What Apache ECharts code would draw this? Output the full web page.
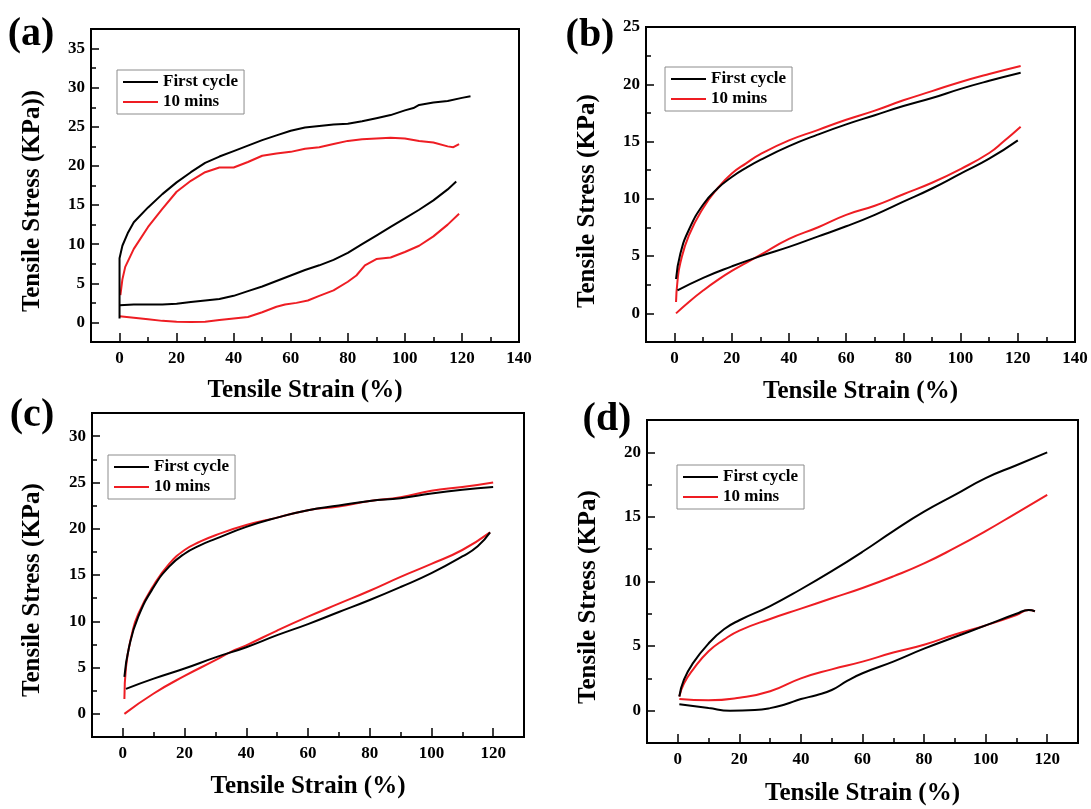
<!DOCTYPE html>
<html>
<head>
<meta charset="utf-8">
<script src="https://cdn.jsdelivr.net/npm/echarts@6/dist/echarts.min.js"></script>
<style>
  html, body { margin: 0; padding: 0; background: #fff; }
  #chart { width: 1091px; height: 809px; }
</style>
</head>
<body>
<div id="chart"></div>
<script>
// ---- data: [strain %, stress KPa] ----
// (a)
const aFirstLoad = [[0,0.5],[0,8.2],[1,9.8],[3,11.5],[5,12.8],[10,14.7],[15,16.4],[20,17.9],[25,19.2],[30,20.4],[35,21.2],[40,21.9],[45,22.6],[50,23.3],[55,23.9],[60,24.5],[65,24.9],[70,25.1],[75,25.3],[80,25.4],[85,25.7],[90,26.1],[95,26.5],[100,27.1],[103,27.4],[105,27.8],[110,28.1],[115,28.3],[120,28.7],[123,28.9]];
const aFirstUnload = [[0,2.2],[5,2.3],[10,2.3],[15,2.3],[20,2.4],[25,2.6],[30,2.8],[35,3.0],[40,3.4],[45,4.0],[50,4.6],[55,5.3],[60,6.0],[65,6.7],[70,7.3],[75,8.0],[80,8.9],[85,10.0],[90,11.1],[95,12.2],[100,13.3],[105,14.4],[110,15.6],[115,17.0],[118,18.0]];
const aTenLoad = [[0.3,3.5],[1,5.5],[2,7.1],[5,9.4],[10,12.2],[15,14.5],[20,16.7],[25,18.1],[30,19.2],[35,19.8],[40,19.8],[45,20.5],[50,21.3],[55,21.6],[60,21.8],[65,22.2],[70,22.4],[75,22.8],[80,23.2],[85,23.4],[90,23.5],[95,23.6],[100,23.5],[105,23.2],[110,23.0],[115,22.5],[117,22.4],[119,22.8]];
const aTenUnload = [[0,0.8],[5,0.6],[10,0.4],[15,0.2],[20,0.1],[25,0.05],[30,0.1],[35,0.3],[40,0.5],[45,0.7],[50,1.3],[55,2.0],[58,2.3],[62,2.5],[66,2.8],[70,3.4],[75,4.1],[80,5.2],[83,6.0],[86,7.3],[90,8.1],[95,8.3],[100,9.0],[105,9.8],[110,11.0],[115,12.5],[119,13.9]];
// (b)
const bFirstLoad = [[0.5,3.0],[2,5.2],[5,7.3],[10,9.5],[15,10.9],[20,11.9],[25,12.7],[30,13.4],[40,14.6],[50,15.6],[60,16.5],[70,17.3],[80,18.1],[90,18.8],[100,19.6],[110,20.3],[121,21.0]];
const bFirstUnload = [[1,2.0],[10,3.1],[20,4.1],[30,5.0],[40,5.8],[50,6.7],[60,7.6],[70,8.6],[80,9.75],[90,10.9],[100,12.2],[110,13.5],[120,15.1]];
const bTenLoad = [[0.5,1.0],[1,2.8],[2,4.4],[5,6.8],[10,9.2],[15,10.9],[20,12.2],[25,13.1],[30,13.9],[40,15.1],[50,16.0],[60,16.9],[70,17.7],[80,18.6],[90,19.4],[100,20.2],[110,20.9],[121,21.6]];
const bTenUnload = [[0.5,0],[5,1.0],[10,2.0],[15,2.9],[20,3.7],[25,4.4],[30,5.1],[40,6.5],[50,7.5],[60,8.6],[70,9.4],[80,10.4],[90,11.4],[100,12.6],[110,14.0],[115,15.0],[121,16.3]];
// (c)
const cFirstLoad = [[0.5,4.0],[2,7.2],[5,10.5],[10,13.7],[15,15.9],[20,17.3],[25,18.2],[30,18.9],[40,20.2],[50,21.2],[60,22.0],[70,22.5],[80,23.0],[90,23.3],[100,23.8],[110,24.2],[120,24.5]];
const cFirstUnload = [[1,2.7],[10,3.8],[20,4.9],[30,6.1],[40,7.2],[50,8.5],[60,9.7],[70,11.0],[80,12.3],[90,13.7],[100,15.2],[110,17.0],[115,18.1],[119,19.6]];
const cTenLoad = [[0.5,1.6],[1,5.0],[3,8.7],[5,10.8],[10,13.9],[15,16.2],[20,17.7],[25,18.6],[30,19.3],[40,20.4],[50,21.2],[60,22.0],[70,22.4],[80,23.0],[90,23.4],[100,24.1],[110,24.5],[120,25.0]];
const cTenUnload = [[0.5,0],[10,2.2],[20,4.1],[30,5.8],[35,6.7],[40,7.4],[50,9.0],[60,10.5],[70,11.9],[80,13.3],[90,14.8],[100,16.2],[110,17.7],[119,19.6]];
// (d)
const dFirstLoad = [[0.5,1.1],[2,2.4],[5,3.7],[10,5.2],[15,6.3],[20,7.0],[30,8.1],[40,9.4],[50,10.8],[60,12.3],[70,13.9],[80,15.4],[90,16.7],[100,18.0],[110,19.0],[120,20.0]];
const dFirstUnload = [[0.5,0.5],[10,0.2],[17,0],[25,0.05],[30,0.2],[35,0.5],[40,0.9],[45,1.2],[50,1.6],[55,2.3],[60,2.9],[70,3.8],[80,4.8],[90,5.7],[100,6.6],[110,7.5],[114,7.8],[116,7.7]];
const dTenLoad = [[0.5,1.1],[2,2.1],[5,3.2],[10,4.6],[15,5.5],[20,6.2],[30,7.1],[40,7.9],[50,8.7],[60,9.5],[70,10.4],[80,11.4],[90,12.6],[100,13.9],[110,15.3],[120,16.7]];
const dTenUnload = [[0.5,0.9],[10,0.8],[20,1.0],[30,1.5],[40,2.5],[50,3.2],[60,3.8],[70,4.5],[80,5.1],[90,5.9],[100,6.6],[110,7.4],[114,7.8],[116,7.7]];

// tick labels
const xTicks140 = [0, 20, 40, 60, 80, 100, 120, 140];
const xTicks120 = [0, 20, 40, 60, 80, 100, 120];
const aYTicks = [0, 5, 10, 15, 20, 25, 30, 35];
const bYTicks = [0, 5, 10, 15, 20, 25];
const cYTicks = [0, 5, 10, 15, 20, 25, 30];
const dYTicks = [0, 5, 10, 15, 20];

const seriesNames = ['First cycle', '10 mins'];
const serif = '"Liberation Serif", "Times New Roman", serif';
const BLACK = '#000000';
const RED = '#ee1d23';

// 每个子图的布局
const panels = [
  { tag: '(a)', tagPos: [31, 35], yName: 'Tensile Stress (KPa))', yNamePos: [33, 201],
    grid: { left: 91, top: 29, width: 428, height: 313 }, legend: { left: 117, top: 70 },
    xMax: 140, xTicks: xTicks140, yMax: 37.5, yTicks: aYTicks, xNameGap: 36, smooth: false,
    lines: [aFirstLoad, aFirstUnload, aTenLoad, aTenUnload] },
  { tag: '(b)', tagPos: [590, 36], yName: 'Tensile Stress (KPa)', yNamePos: [588, 201],
    grid: { left: 646, top: 27, width: 429, height: 315 }, legend: { left: 665, top: 67 },
    xMax: 140, xTicks: xTicks140, yMax: 25, yTicks: bYTicks, xNameGap: 37, smooth: 0.5,
    lines: [bFirstLoad, bFirstUnload, bTenLoad, bTenUnload] },
  { tag: '(c)', tagPos: [32, 416], yName: 'Tensile Stress (KPa)', yNamePos: [33, 590],
    grid: { left: 92, top: 413, width: 432, height: 324 }, legend: { left: 108, top: 455 },
    xMax: 130, xTicks: xTicks120, yMax: 32.5, yTicks: cYTicks, xNameGap: 37, smooth: 0.5,
    lines: [cFirstLoad, cFirstUnload, cTenLoad, cTenUnload] },
  { tag: '(d)', tagPos: [607, 420], yName: 'Tensile Stress (KPa)', yNamePos: [589, 597],
    grid: { left: 647, top: 420, width: 431, height: 323 }, legend: { left: 677, top: 465 },
    xMax: 130, xTicks: xTicks120, yMax: 22.5, yTicks: dYTicks, xNameGap: 38, smooth: 0.5,
    lines: [dFirstLoad, dFirstUnload, dTenLoad, dTenUnload] },
];

const tickStyle = { color: BLACK, width: 1.5 };
const labelStyle = { color: BLACK, fontFamily: serif, fontWeight: 'bold', fontSize: 17 };

const grids = [], xAxes = [], yAxes = [], series = [], legends = [], graphics = [];

panels.forEach((p, i) => {
  grids.push({ ...p.grid, show: true, borderColor: BLACK, borderWidth: 2, containLabel: false });

  // 主轴(短刻度+标签) + 长刻度叠加轴
  xAxes.push({
    gridIndex: i, type: 'value', position: 'bottom', min: -10, max: p.xMax, interval: 10,
    axisLine: { onZero: false, lineStyle: { color: BLACK, width: 2 } },
    axisTick: { inside: true, length: 5, lineStyle: tickStyle },
    axisLabel: { ...labelStyle, margin: 8, formatter: (v) => (p.xTicks.includes(v) ? String(v) : '') },
    splitLine: { show: false },
    name: 'Tensile Strain (%)', nameLocation: 'middle', nameGap: p.xNameGap,
    nameTextStyle: { color: BLACK, fontFamily: serif, fontWeight: 'bold', fontSize: 25 },
  });
  xAxes.push({
    gridIndex: i, type: 'value', position: 'bottom', min: -10, max: p.xMax,
    axisLine: { show: false, onZero: false },
    axisTick: { inside: true, length: 9, lineStyle: tickStyle, customValues: p.xTicks },
    axisLabel: { show: false }, splitLine: { show: false },
  });
  yAxes.push({
    gridIndex: i, type: 'value', position: 'left', min: -2.5, max: p.yMax, interval: 2.5,
    axisLine: { onZero: false, lineStyle: { color: BLACK, width: 2 } },
    axisTick: { inside: true, length: 5, lineStyle: tickStyle },
    axisLabel: { ...labelStyle, margin: 6, formatter: (v) => (p.yTicks.includes(v) ? String(v) : '') },
    splitLine: { show: false },
  });
  yAxes.push({
    gridIndex: i, type: 'value', position: 'left', min: -2.5, max: p.yMax,
    axisLine: { show: false, onZero: false },
    axisTick: { inside: true, length: 8, lineStyle: tickStyle, customValues: p.yTicks },
    axisLabel: { show: false }, splitLine: { show: false },
  });

  p.lines.forEach((d, k) => {
    const color = k < 2 ? BLACK : RED;
    series.push({
      type: 'line', name: seriesNames[k < 2 ? 0 : 1],
      xAxisIndex: 2 * i, yAxisIndex: 2 * i, data: d,
      symbol: 'none', showSymbol: false, smooth: p.smooth,
      lineStyle: { color, width: 2 }, itemStyle: { color },
      z: k < 2 ? 3 : 2,
    });
  });

  legends.push({
    ...p.legend, orient: 'vertical', data: seriesNames, selectedMode: false,
    icon: 'rect', itemWidth: 35, itemHeight: 2, itemGap: 2, padding: [3, 6, 3, 6],
    borderColor: '#8c8c8c', borderWidth: 1, backgroundColor: '#fff',
    textStyle: { color: BLACK, fontFamily: serif, fontWeight: 'bold', fontSize: 17, lineHeight: 18 },
  });

  graphics.push({
    type: 'text', x: p.tagPos[0], y: p.tagPos[1],
    style: { text: p.tag, font: 'bold 40px ' + serif, fill: BLACK, align: 'center', verticalAlign: 'middle' },
  });
  graphics.push({
    type: 'text', x: p.yNamePos[0], y: p.yNamePos[1], rotation: Math.PI / 2,
    style: { text: p.yName, font: 'bold 25px ' + serif, fill: BLACK, align: 'center', verticalAlign: 'middle' },
  });
});

const chart = echarts.init(document.getElementById('chart'));
chart.setOption({
  backgroundColor: '#ffffff',
  animation: false,
  grid: grids,
  xAxis: xAxes,
  yAxis: yAxes,
  legend: legends,
  series: series,
  graphic: graphics,
});
</script>
</body>
</html>
